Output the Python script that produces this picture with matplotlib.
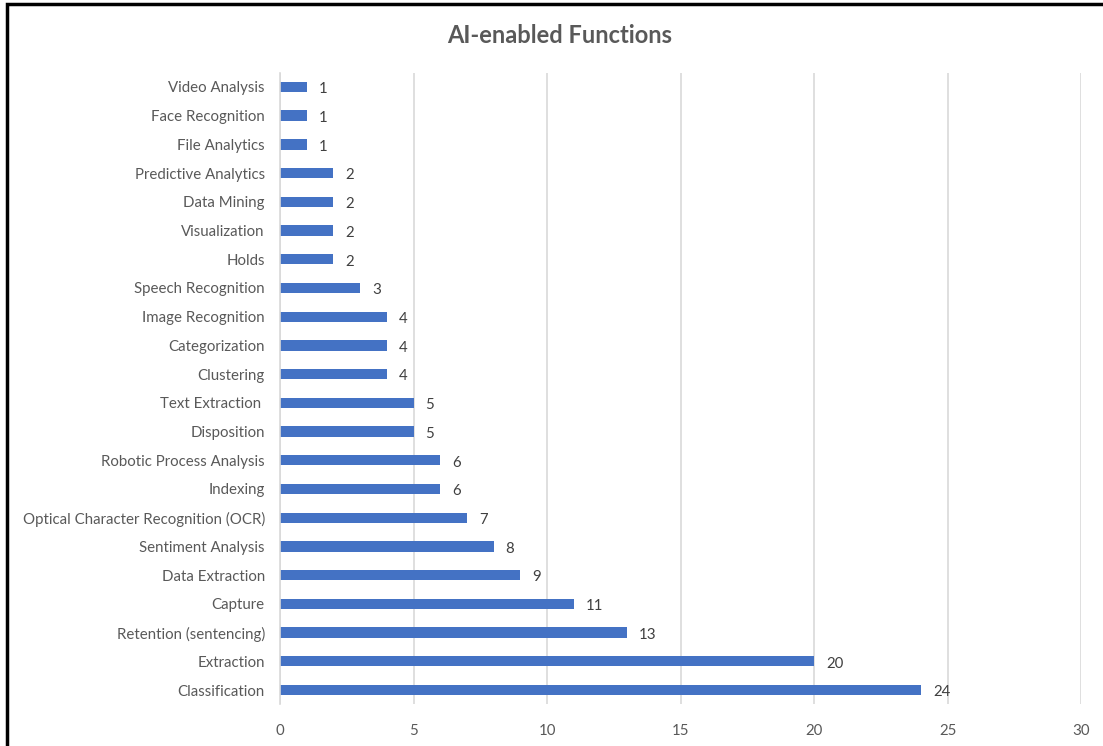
import matplotlib
matplotlib.use("Agg")
import matplotlib.pyplot as plt
from matplotlib.patches import Rectangle

categories = ["Classification", "Extraction", "Retention (sentencing)", "Capture",
              "Data Extraction", "Sentiment Analysis", "Optical Character Recognition (OCR)",
              "Indexing", "Robotic Process Analysis", "Disposition", "Text Extraction ",
              "Clustering", "Categorization", "Image Recognition", "Speech Recognition",
              "Holds", "Visualization", "Data Mining", "Predictive Analytics",
              "File Analytics", "Face Recognition", "Video Analysis"]
values = [24, 20, 13, 11, 9, 8, 7, 6, 6, 5, 5, 4, 4, 4, 3, 2, 2, 2, 2, 1, 1, 1]
xticks = [0, 5, 10, 15, 20, 25, 30]

plt.rcParams['font.family'] = ['Lato', 'DejaVu Sans']
fig = plt.figure(figsize=(11.03, 7.46), dpi=100)
ax = fig.add_axes([0.2539, 0.0558, 0.7262, 0.8469])

y = list(range(len(categories)))
ax.barh(y, values, height=0.36, color='#4472C4', zorder=3)
for yi, v in zip(y, values):
    ax.text(v + 0.45, yi - 0.08, str(v), va='center', ha='left', fontsize=10.8, color='#404040')

ax.set_xlim(0, 30)
ax.set_ylim(-0.5, len(categories) - 0.5)
ax.set_xticks(xticks)
ax.set_xticklabels([str(t) for t in xticks])
ax.set_yticks(y)
ax.set_yticklabels(categories)
ax.tick_params(axis='both', length=0, labelsize=10.8, labelcolor='#595959')
ax.tick_params(axis='x', pad=14)
ax.tick_params(axis='y', pad=11)
ax.grid(axis='x', color='#D9D9D9', linewidth=1.2, zorder=0)
for s in ['top', 'right', 'bottom']:
    ax.spines[s].set_visible(False)
ax.spines['left'].set_color('#D9D9D9')
ax.spines['left'].set_linewidth(1.2)
ax.spines['left'].set_zorder(4)

fig.text(0.5076, 0.953, "AI-enabled Functions", ha='center', va='center',
         fontsize=17, fontweight='bold', color='#595959')

fig.patches.append(Rectangle((7/1103, -0.01), 1.1, 1 - 4/746 + 0.01, transform=fig.transFigure,
                             fill=False, edgecolor='black', linewidth=2.5))

fig.savefig("out.png", dpi=100)
